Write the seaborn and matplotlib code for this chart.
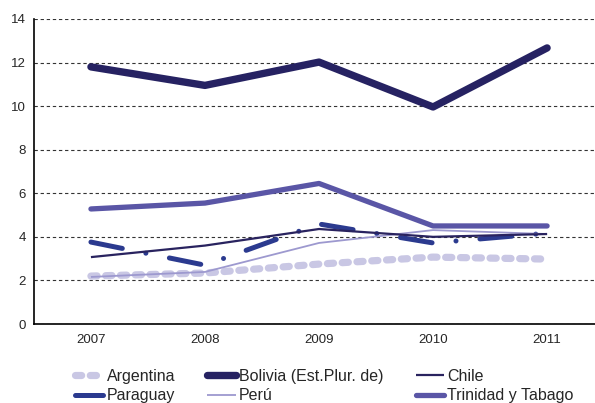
import numpy as np
import pandas as pd
import matplotlib
matplotlib.use("Agg")
import matplotlib.pyplot as plt
import seaborn as sns

# --- Data ---
years = ["2007", "2008", "2009", "2010", "2011"]
argentina = [2.2, 2.34, 2.75, 3.07, 2.98]
bolivia = [11.8, 10.95, 12.02, 9.96, 12.67]
chile = [3.07, 3.6, 4.36, 4.0, 4.13]
paraguay = [3.76, 2.7, 4.59, 3.72, 4.17]
peru = [2.16, 2.39, 3.72, 4.31, 4.13]
trinidad = [5.28, 5.55, 6.45, 4.5, 4.5]

sns.set_style("white")
plt.rcParams["font.family"] = ["Liberation Sans", "DejaVu Sans"]

fig = plt.figure(figsize=(5.95, 4.03), dpi=100)
ax = fig.add_axes([0.057, 0.196, 0.943, 0.757])

x = np.arange(len(years))

# (label, values, color, width, dashes, capstyle)
series = [
    ("Argentina", argentina, "#c9c7e4", 5.2, (0.85, 1.2), "round"),
    ("Paraguay", paraguay, "#2b3a8f", 3.6, (6.4, 4.8, 0.01, 4.8), "round"),
    ("Bolivia (Est.Plur. de)", bolivia, "#262262", 5.3, None, "round"),
    ("Perú", peru, "#9d99cf", 1.3, None, "butt"),
    ("Chile", chile, "#29235f", 1.6, None, "butt"),
    ("Trinidad y Tabago", trinidad, "#5a56a6", 3.8, None, "round"),
]

for label, vals, color, lw, dashes, cap in series:
    df = pd.DataFrame({"x": x, "y": vals})
    sns.lineplot(data=df, x="x", y="y", ax=ax, color=color, linewidth=lw,
                 label=label, legend=False)
    line = ax.lines[-1]
    if dashes is not None:
        line.set_dashes(dashes)
        line.set_dash_capstyle(cap)
    line.set_solid_capstyle(cap)
    line.set_solid_joinstyle("miter" if cap == "butt" else "round")

ax.set_ylim(0, 14)
ax.set_yticks(np.arange(0, 15, 2))
ax.set_xlim(-0.5, 4.42)
ax.set_xticks(x)
ax.set_xticklabels(years)
ax.set_xticks(np.arange(-0.5, 4.5, 1.0), minor=True)
ax.tick_params(axis="x", which="major", length=0, pad=7, labelsize=9.5)
ax.tick_params(axis="x", which="minor", length=4, direction="out", width=1, color="black")
ax.tick_params(axis="y", length=4, direction="out", width=1, color="black", labelsize=9.5, pad=2)
ax.set_xlabel("")
ax.set_ylabel("")

ax.yaxis.grid(True, linestyle=(0, (3, 2.5)), color="#333333", linewidth=0.8)
ax.xaxis.grid(False)
ax.set_axisbelow(True)
for side in ["top", "right"]:
    ax.spines[side].set_visible(False)
for side in ["left", "bottom"]:
    ax.spines[side].set_color("black")
    ax.spines[side].set_linewidth(1.2)

handles, labels = ax.get_legend_handles_labels()
fig.legend(handles, labels, loc="upper center", bbox_to_anchor=(0.545, 0.12),
           ncol=3, frameon=False, fontsize=11.5, handlelength=1.8,
           columnspacing=2.0, labelspacing=0.27, handletextpad=0.2)

fig.savefig("out.png", dpi=100)
